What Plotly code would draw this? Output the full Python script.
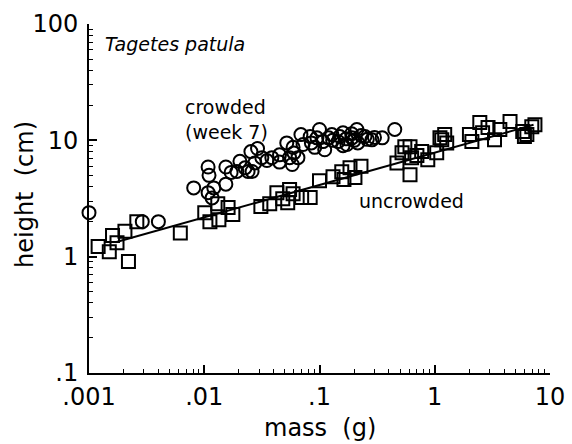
import plotly.graph_objects as go

# ---- data ----
crowded_mass = [0.001, 0.0029, 0.0040, 0.0081, 0.0108, 0.011, 0.0108, 0.0121, 0.0117,
                0.0154, 0.0154, 0.0171, 0.0192, 0.0204, 0.0226, 0.024, 0.0254, 0.029,
                0.0275, 0.026, 0.0316, 0.0386, 0.045, 0.052, 0.055, 0.059, 0.058, 0.065,
                0.069, 0.072, 0.083, 0.091, 0.10, 0.107, 0.111, 0.128, 0.145, 0.160,
                0.173, 0.191, 0.211, 0.215, 0.248, 0.285, 0.35, 0.45,
                0.13, 0.15, 0.17, 0.19, 0.20, 0.23, 0.26, 0.30, 0.16, 0.12, 0.085,
                0.095, 0.06, 0.045, 0.035]
crowded_height = [2.39, 2.00, 2.00, 3.9, 5.9, 5.0, 3.55, 3.9, 3.2,
                  5.9, 4.2, 5.3, 5.4, 6.6, 5.8, 5.4, 8.0, 8.5,
                  6.4, 5.4, 7.1, 7.1, 7.5, 9.5, 7.1, 8.7, 6.2, 7.1,
                  11.2, 9.2, 10.8, 8.7, 12.4, 9.75, 8.3, 11.2, 9.75, 11.6,
                  9.2, 10.5, 12.4, 9.5, 10.8, 10.1, 10.5, 12.4,
                  10.0, 10.8, 10.3, 11.4, 10.0, 11.0, 10.2, 10.6, 9.0, 10.5, 9.5,
                  10.5, 7.8, 6.5, 6.7]

uncrowded_mass = [0.0012, 0.0015, 0.0016, 0.00175, 0.00205, 0.0022, 0.0026, 0.0062,
                  0.0101, 0.0112, 0.0131, 0.0134, 0.0161, 0.0177, 0.031, 0.037, 0.0427,
                  0.048, 0.053, 0.055, 0.059, 0.070, 0.083, 0.10, 0.131, 0.156, 0.163,
                  0.184, 0.203, 0.229, 0.47, 0.52, 0.55, 0.61, 0.63, 0.61, 0.77, 0.87,
                  1.04, 1.11, 1.22, 1.27, 1.15, 2.1, 2.0, 2.46, 2.6, 2.9, 3.3, 3.67,
                  4.5, 5.8, 6.0, 6.95, 7.4, 6.3, 0.70]
uncrowded_height = [1.22, 1.10, 1.52, 1.32, 1.65, 0.91, 2.0, 1.6,
                    2.39, 2.0, 2.85, 2.08, 2.64, 2.3, 2.7, 2.85, 3.55,
                    3.15, 2.91, 3.77, 3.48, 3.22, 3.22, 4.5, 4.87, 5.38, 4.6,
                    5.8, 4.8, 6.0, 6.4, 7.84, 8.8, 8.8, 7.1, 5.07, 8.0, 6.8,
                    7.84, 10.5, 11.2, 9.5, 10.1, 9.75, 11.2, 14.2, 11.6, 12.9, 10.1, 12.4,
                    14.5, 11.9, 10.8, 13.1, 13.6, 11.2, 7.4]

fit_mass = [0.0017, 7.2]
fit_height = [1.33, 13.6]

x_tickvals = [0.001, 0.01, 0.1, 1, 10]
x_ticktext = [".001", ".01", ".1", "1", "10"]
y_tickvals = [0.1, 1, 10, 100]
y_ticktext = [".1", "1", "10", "100"]

# ---- layout geometry ----
W, H = 572, 444
L, R, T, B = 89, 22, 24, 71
pw, ph = W - L - R, H - T - B

def px(xp):
    return (xp - L) / pw

def py(yp):
    return (H - B - yp) / ph

minor_x = [k * 10.0 ** e for e in range(-3, 1) for k in range(2, 10)]
minor_y = [k * 10.0 ** e for e in range(-1, 2) for k in range(2, 10)]

FONT = "DejaVu Sans"

fig = go.Figure()
fig.add_trace(go.Scatter(x=fit_mass, y=fit_height, mode="lines",
                         line=dict(color="black", width=2), showlegend=False))
fig.add_trace(go.Scatter(x=uncrowded_mass, y=uncrowded_height, mode="markers",
                         marker=dict(symbol="square-open", size=13, color="black",
                                     line=dict(width=2, color="black")),
                         cliponaxis=False, showlegend=False))
fig.add_trace(go.Scatter(x=crowded_mass, y=crowded_height, mode="markers",
                         marker=dict(symbol="circle-open", size=13, color="black",
                                     line=dict(width=2, color="black")),
                         cliponaxis=False, showlegend=False))

axis_common = dict(
    type="log", showgrid=False, zeroline=False, showline=True,
    linecolor="black", linewidth=2, ticks="inside", ticklen=8, tickwidth=1.5,
    tickcolor="black", tickfont=dict(family=FONT, size=24, color="black"),
    mirror=False,
)

fig.update_xaxes(range=[-3, 1], tickmode="array", tickvals=x_tickvals,
                 ticktext=x_ticktext, ticklabelstandoff=1,
                 minor=dict(tickmode="array", tickvals=minor_x, ticks="inside",
                            ticklen=4, tickwidth=1.2, tickcolor="black", showgrid=False),
                 **axis_common)
fig.update_yaxes(range=[-1, 2], tickmode="array", tickvals=y_tickvals,
                 ticktext=y_ticktext, ticklabelstandoff=4,
                 minor=dict(tickmode="array", tickvals=minor_y, ticks="inside",
                            ticklen=4, tickwidth=1.2, tickcolor="black", showgrid=False),
                 **axis_common)

ann_font = dict(family=FONT, size=19, color="black")
fig.update_layout(
    width=W, height=H,
    margin=dict(l=L, r=R, t=T, b=B, autoexpand=False),
    paper_bgcolor="white", plot_bgcolor="white",
    annotations=[
        dict(text="<i>Tagetes patula</i>", x=px(103), y=py(44), xref="paper", yref="paper",
             xanchor="left", yanchor="middle", showarrow=False, font=ann_font),
        dict(text="crowded<br>(week 7)", x=px(183), y=py(119), xref="paper", yref="paper",
             xanchor="left", yanchor="middle", align="left", showarrow=False, font=ann_font),
        dict(text="uncrowded", x=px(357), y=py(201), xref="paper", yref="paper",
             xanchor="left", yanchor="middle", showarrow=False, font=ann_font),
        dict(text="mass\u00a0 (g)", x=px(320), y=py(428), xref="paper", yref="paper",
             xanchor="center", yanchor="middle", showarrow=False,
             font=dict(family=FONT, size=24, color="black")),
        dict(text="height\u00a0 (cm)", x=px(25), y=py(195), xref="paper", yref="paper",
             xanchor="center", yanchor="middle", textangle=-90, showarrow=False,
             font=dict(family=FONT, size=24, color="black")),
    ],
)

fig.write_html("out.html")
